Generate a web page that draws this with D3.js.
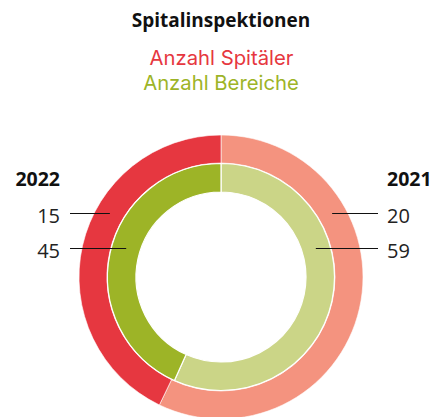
<!DOCTYPE html>
<html>
<head>
<meta charset="utf-8">
<script src="https://cdn.jsdelivr.net/npm/d3@7"></script>
<style>
  html, body { margin: 0; padding: 0; background: #fff; }
  svg { display: block; font-family: "Open Sans", "Noto Sans", sans-serif; }
  .legend { font-family: Inter, "Open Sans", sans-serif; }
</style>
</head>
<body>
<svg id="chart" width="432" height="417"></svg>
<script>
// Years in drawing order: 2021 clockwise from 12 o'clock, then 2022
const years = ["2021", "2022"];
const spitaeler = [20, 15];   // Anzahl Spitäler (outer ring)
const bereiche = [59, 45];    // Anzahl Bereiche (inner ring)
const outerColors = ["#f4937f", "#e63740"];
const innerColors = ["#cbd587", "#9db427"];

const svg = d3.select("#chart");
const cx = 221, cy = 277;

// Title and legend text
svg.append("text").attr("x", 221).attr("y", 27).attr("text-anchor", "middle")
  .attr("font-size", 19).attr("font-weight", "bold").attr("fill", "#111")
  .text("Spitalinspektionen");
svg.append("text").attr("class", "legend").attr("x", 221.5).attr("y", 65).attr("text-anchor", "middle")
  .attr("font-size", 20.3).attr("fill", "#e63740").text("Anzahl Spitäler");
svg.append("text").attr("class", "legend").attr("x", 221).attr("y", 90).attr("text-anchor", "middle")
  .attr("font-size", 20.3).attr("fill", "#9db427").text("Anzahl Bereiche");

const pie = d3.pie().sort(null).value(d => d);
const g = svg.append("g").attr("transform", `translate(${cx},${cy})`);

const outerArc = d3.arc().innerRadius(114).outerRadius(142);
const innerArc = d3.arc().innerRadius(85).outerRadius(113.5);

g.selectAll("path.outer").data(pie(spitaeler)).join("path")
  .attr("class", "outer")
  .attr("d", outerArc)
  .attr("fill", (d, i) => outerColors[i])
  .attr("stroke", "#fff").attr("stroke-width", 0.6);

g.selectAll("path.inner").data(pie(bereiche)).join("path")
  .attr("class", "inner")
  .attr("d", innerArc)
  .attr("fill", (d, i) => innerColors[i])
  .attr("stroke", "#fff").attr("stroke-width", 1.2);

// Value labels with leader lines
const yOuter = 213.5, yInner = 248.5;
function leaderX(r, y, side) {
  const dy = y - cy;
  return cx + side * Math.sqrt(r * r - dy * dy);
}

// 2021 on the right, 2022 on the left
const sides = [1, -1];
years.forEach((yr, i) => {
  const side = sides[i];
  const textX = side > 0 ? 387 : 60;
  const anchor = side > 0 ? "start" : "end";
  svg.append("text").attr("x", textX).attr("y", 186)
    .attr("text-anchor", anchor).attr("font-size", 19.5).attr("font-weight", "bold")
    .attr("fill", "#111").text(yr);
  [[spitaeler[i], yOuter, 128], [bereiche[i], yInner, 99]].forEach(([v, y, r]) => {
    const lineEnd = leaderX(r, y, side);
    const lineStart = side > 0 ? 378 : 70;
    svg.append("line").attr("x1", lineStart).attr("x2", lineEnd)
      .attr("y1", y).attr("y2", y).attr("stroke", "#111").attr("stroke-width", 1.2);
    svg.append("text").attr("x", textX).attr("y", y + 9.5)
      .attr("text-anchor", anchor).attr("font-size", 20).attr("fill", "#222").text(v);
  });
});
</script>
</body>
</html>
